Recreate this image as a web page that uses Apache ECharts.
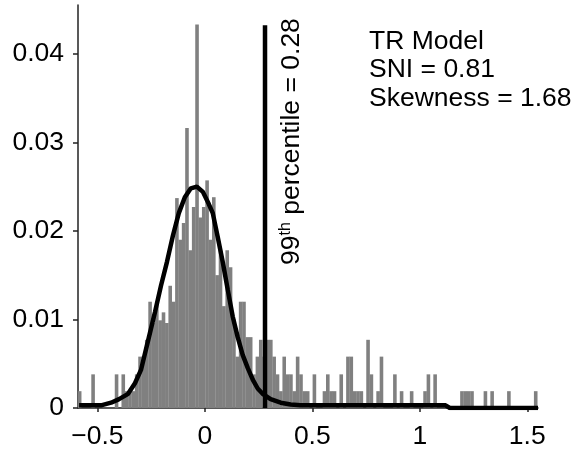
<!DOCTYPE html>
<html>
<head>
<meta charset="utf-8">
<script src="https://cdn.jsdelivr.net/npm/echarts@6/dist/echarts.min.js"></script>
<style>
html,body{margin:0;padding:0;background:#fff;}
#chart{width:583px;height:452px;}
</style>
</head>
<body>
<div id="chart"></div>
<script>
// histogram bins (left edge of first bin + width), heights
var binStart = -0.59;
var binWidth = 0.0156;
var histY = [
  0.0019, 0, 0, 0, 0.0038, 0, 0, 0, 0, 0,
  0, 0.0038, 0, 0.0038, 0.0019, 0.0019, 0.0019, 0.0038, 0.0058, 0.0058,
  0.0077, 0.0120, 0.0096, 0.0120, 0.0099, 0.0108, 0.0096, 0.0138, 0.0120, 0.0237,
  0.0190, 0.0209, 0.0316, 0.0178, 0.0227, 0.0433, 0.0215, 0.0227, 0.0257, 0.0190,
  0.0238, 0.0150, 0.0178, 0.0115, 0.0178, 0.0159, 0.0100, 0.0058, 0.0120, 0.0120,
  0.0080, 0.0080, 0.0038, 0.0058, 0.0077, 0.0058, 0.0077, 0.0077, 0.0058, 0.0038,
  0.0019, 0.0058, 0.0038, 0.0038, 0.0019, 0.0058, 0.0038, 0.0019, 0.0019, 0,
  0.0038, 0, 0, 0.0019, 0.0038, 0.0019, 0.0019, 0, 0.0038, 0,
  0.0058, 0.0058, 0.0019, 0.0019, 0.0019, 0, 0.0077, 0.0038, 0, 0.0019,
  0.0058, 0, 0, 0, 0.0038, 0, 0.0019, 0, 0, 0.0019,
  0, 0, 0, 0.0019, 0.0038, 0, 0.0038, 0, 0, 0,
  0, 0, 0, 0, 0.0019, 0.0019, 0.0019, 0.0019, 0, 0,
  0, 0.0019, 0, 0.0019, 0, 0, 0, 0, 0.0019, 0,
  0, 0, 0, 0, 0, 0, 0.0019
];

// fitted curve
var fitX = [-0.585, -0.483, -0.436, -0.399, -0.357, -0.325, -0.297, -0.260, -0.232, -0.204,
  -0.176, -0.148, -0.121, -0.093, -0.065, -0.037, -0.009, 0.019, 0.037, 0.060,
  0.084, 0.107, 0.130, 0.153, 0.176, 0.200, 0.223, 0.246, 0.269, 0.306,
  0.353, 0.399, 0.445, 1.120, 1.140, 1.550];
var fitY = [0.0003, 0.0003, 0.0006, 0.0010, 0.0016, 0.0028, 0.0043, 0.0080, 0.0108, 0.0138,
  0.0165, 0.0195, 0.0220, 0.0238, 0.0248, 0.0250, 0.0244, 0.0230, 0.0220, 0.0193,
  0.0164, 0.0133, 0.0103, 0.0080, 0.0060, 0.0045, 0.0032, 0.0022, 0.0016, 0.0010,
  0.0006, 0.0004, 0.0003, 0.0003, 0.0000, 0.0000];

var pctValue = 0.28;
var pctTop = 0.0432;
var infoLines = ['TR Model', 'SNI = 0.81', 'Skewness = 1.68'];

var xMin = -0.59, xMax = 1.55;
var yMin = 0, yMax = 0.0455;

var FONT = 'Liberation Sans, Arial, Helvetica, sans-serif';
var FS = 26.5;

var barData = [];
for (var i = 0; i < histY.length; i++) {
  if (histY[i] > 0) barData.push([binStart + binWidth * (i + 0.5), histY[i]]);
}
var fitData = [];
for (var j = 0; j < fitX.length; j++) fitData.push([fitX[j], fitY[j]]);

var chart = echarts.init(document.getElementById('chart'));

var option = {
  animation: false,
  grid: {left: 78, right: 45, top: 5, bottom: 44, containLabel: false},
  xAxis: {
    type: 'value',
    min: xMin,
    max: xMax,
    splitNumber: 5,
    splitLine: {show: false},
    axisLine: {show: true, onZero: false, lineStyle: {color: '#222', width: 1.5}},
    axisTick: {show: true, length: 4, lineStyle: {color: '#222', width: 1.5}},
    axisLabel: {
      color: '#000', fontFamily: FONT, fontSize: FS, margin: 15,
      showMinLabel: false, showMaxLabel: false,
      formatter: function (v) { return String(v).replace('-', '\u2212'); }
    }
  },
  yAxis: {
    type: 'value',
    min: yMin,
    max: yMax,
    interval: 0.01,
    splitLine: {show: false},
    axisLine: {show: true, onZero: false, lineStyle: {color: '#222', width: 1.5}},
    axisTick: {show: true, length: 5, lineStyle: {color: '#222', width: 1.5}},
    axisLabel: {
      color: '#000', fontFamily: FONT, fontSize: FS, margin: 14,
      showMaxLabel: false
    }
  },
  series: [
    {
      type: 'bar',
      data: barData,
      barWidth: 3.6,
      itemStyle: {color: '#808080'},
      z: 1
    },
    {
      type: 'line',
      data: fitData,
      showSymbol: false,
      symbol: 'none',
      lineStyle: {color: '#000', width: 4.5},
      z: 3
    },
    {
      type: 'line',
      data: [[pctValue, 0], [pctValue, pctTop]],
      showSymbol: false,
      symbol: 'none',
      lineStyle: {color: '#000', width: 4.5},
      z: 4
    }
  ]
};
chart.setOption(option);

// annotations
var base = chart.convertToPixel({gridIndex: 0}, [pctValue, 0]);
chart.setOption({
  graphic: [
    {
      type: 'text',
      x: base[0] + 40,
      y: base[1] - 143,
      rotation: Math.PI / 2,
      style: {
        text: '99{sup|th} percentile = 0.28',
        font: FS + 'px ' + FONT,
        fill: '#000',
        textAlign: 'left',
        textVerticalAlign: 'bottom',
        rich: {
          sup: {fontSize: 16, fontFamily: FONT, verticalAlign: 'top', fill: '#000'}
        }
      },
      z: 10
    },
    {
      type: 'text',
      left: 369,
      top: 27,
      style: {
        text: infoLines.join('\n'),
        font: FS + 'px ' + FONT,
        lineHeight: 28.5,
        fill: '#000'
      },
      z: 10
    }
  ]
});
</script>
</body>
</html>
